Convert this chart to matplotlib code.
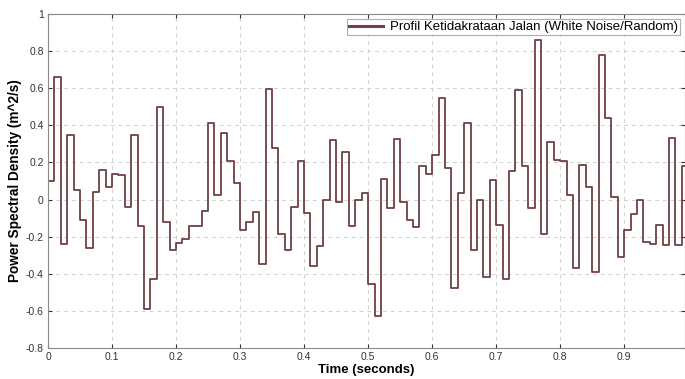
import numpy as np
import matplotlib
matplotlib.use("Agg")
import matplotlib.pyplot as plt

plt.rcParams['font.family'] = ['Liberation Sans', 'DejaVu Sans']

# Sample time (s) and road roughness values
dt = 0.01
psd = [0.10, 0.66, -0.24, 0.35, 0.05, -0.11, -0.26, 0.04, 0.16, 0.07,
       0.14, 0.135, -0.04, 0.35, -0.14, -0.59, -0.43, 0.50, -0.12, -0.27,
       -0.235, -0.21, -0.14, -0.14, -0.06, 0.41, 0.025, 0.36, 0.21, 0.09,
       -0.165, -0.12, -0.065, -0.35, 0.595, 0.28, -0.185, -0.27, -0.04, 0.21,
       -0.075, -0.36, -0.25, -0.005, 0.32, -0.015, 0.255, -0.145, -0.005, 0.035,
       -0.455, -0.63, 0.11, -0.045, 0.325, -0.015, -0.11, -0.15, 0.18, 0.14,
       0.24, 0.545, 0.17, -0.475, 0.035, 0.415, -0.27, -0.005, -0.415, 0.105,
       -0.135, -0.43, 0.155, 0.59, 0.18, -0.045, 0.86, -0.185, 0.31, 0.215,
       0.21, 0.025, -0.37, 0.185, 0.065, -0.39, 0.78, 0.44, 0.015, -0.31,
       -0.165, -0.08, 0.0, -0.23, -0.24, -0.135, -0.245, 0.33, -0.245, 0.18]
t = np.arange(len(psd)) * dt

xticks = [0, 0.1, 0.2, 0.3, 0.4, 0.5, 0.6, 0.7, 0.8, 0.9]
xticklabels = ['0', '0.1', '0.2', '0.3', '0.4', '0.5', '0.6', '0.7', '0.8', '0.9']
yticks = [-0.8, -0.6, -0.4, -0.2, 0, 0.2, 0.4, 0.6, 0.8, 1]
yticklabels = ['-0.8', '-0.6', '-0.4', '-0.2', '0', '0.2', '0.4', '0.6', '0.8', '1']

fig = plt.figure(figsize=(6.85, 3.79), dpi=100)
ax = fig.add_axes([48 / 685, 1 - 348 / 379, 1 - 48 / 685, (348 - 14) / 379])

# extend last step to the right edge
t_plot = np.append(t, t[-1] + dt)
y_plot = np.append(psd, psd[-1])
ax.step(t_plot, y_plot, where='post', color='#704042', linewidth=1.3,
        label='Profil Ketidakrataan Jalan (White Noise/Random)')

ax.set_xlim(0, 0.995)
ax.set_ylim(-0.8, 1)
ax.set_xticks(xticks)
ax.set_xticklabels(xticklabels)
ax.set_yticks(yticks)
ax.set_yticklabels(yticklabels)
ax.tick_params(direction='in', length=3, labelsize=7.5, colors='#333333',
               top=True, right=True, pad=3)
for sp in ax.spines.values():
    sp.set_color('#8a8a8a')
    sp.set_linewidth(0.8)
ax.grid(True, linestyle=(0, (4, 4)), color='#d0d0d0', linewidth=0.7)

ax.set_xlabel('Time (seconds)', fontsize=9.5, fontweight='bold', labelpad=1)
ax.set_ylabel('Power Spectral Density (m^2/s)', fontsize=9.8, fontweight='bold', labelpad=3)

leg = ax.legend(loc='upper right', fontsize=9.5, frameon=True, fancybox=False,
                borderaxespad=0.4, handlelength=2.6, borderpad=0.15, handletextpad=0.5)
leg.get_frame().set_edgecolor('#9a9a9a')
leg.get_frame().set_linewidth(0.8)
for line in leg.get_lines():
    line.set_linewidth(2.2)

fig.savefig('out.png', dpi=100)
